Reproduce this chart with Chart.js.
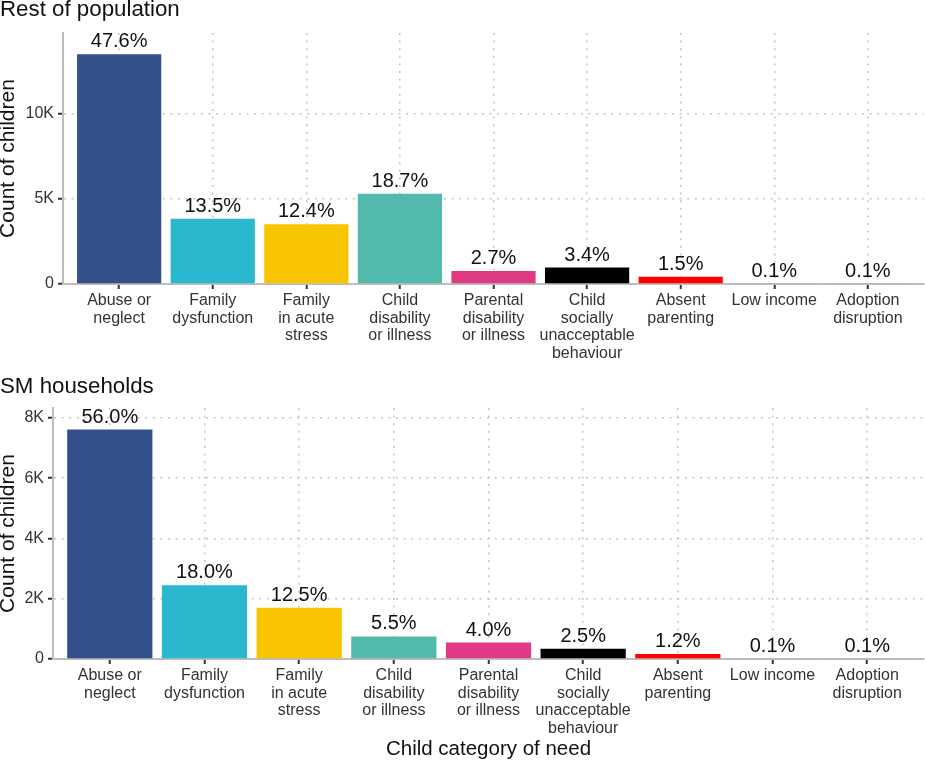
<!DOCTYPE html>
<html><head><meta charset="utf-8">
<script src="https://cdn.jsdelivr.net/npm/chart.js@4.4.1/dist/chart.umd.min.js"></script>
<style>
html,body{margin:0;padding:0;background:#fff;}
#c1{position:absolute;left:0;top:0;}
#c2{position:absolute;left:0;top:375px;}
</style></head><body>
<canvas id="c1" width="925" height="375"></canvas>
<canvas id="c2" width="925" height="386"></canvas>
<script>
const categories = [["Abuse or","neglect"],["Family","dysfunction"],["Family","in acute","stress"],["Child","disability","or illness"],["Parental","disability","or illness"],["Child","socially","unacceptable","behaviour"],["Absent","parenting"],["Low income"],["Adoption","disruption"]];
const barColors = ['#33508A','#29B8CE','#F9C400','#52BAAC','#E03A84','#000000','#FF0000','#9E9E9E','#9E9E9E'];
const restCounts = [13450,3815,3504,5284,763,961,424,28,28];
const restPct = ['47.6%','13.5%','12.4%','18.7%','2.7%','3.4%','1.5%','0.1%','0.1%'];
const smCounts = [7616,2448,1700,748,544,340,163,14,14];
const smPct = ['56.0%','18.0%','12.5%','5.5%','4.0%','2.5%','1.2%','0.1%','0.1%'];
const restTicks = [0,5000,10000];
const smTicks = [0,2000,4000,6000,8000];

const FONT = "'Liberation Sans', Arial, sans-serif";

function kFmt(v){ return v === 0 ? '0' : (v/1000) + 'K'; }

const labelPlugin = {
  id: 'barLabels',
  afterDatasetsDraw(chart, args, opts) {
    const ctx = chart.ctx;
    const meta = chart.getDatasetMeta(0);
    ctx.save();
    ctx.font = '20px ' + FONT;
    ctx.fillStyle = '#111';
    ctx.textAlign = 'center';
    ctx.textBaseline = 'alphabetic';
    meta.data.forEach((bar, i) => {
      ctx.fillText(opts.labels[i], bar.x, bar.y - 7);
    });
    ctx.restore();
  }
};
const panelTitle = {
  id: 'panelTitle',
  afterDraw(chart, args, opts) {
    const ctx = chart.ctx;
    ctx.save();
    ctx.font = '22.3px ' + FONT;
    ctx.fillStyle = '#111';
    ctx.textAlign = 'left';
    ctx.textBaseline = 'alphabetic';
    ctx.fillText(opts.text, 0, opts.y);
    ctx.restore();
  }
};

function makeChart(id, counts, pct, yTicks, yMax, yWidth, xHeight, title, titleY, showXTitle) {
  const gridStyle = {
    color: '#c4c4c4', lineWidth: 1.5,
    tickColor: '#333', tickWidth: 2, tickLength: 5, tickBorderDash: []
  };
  const borderStyle = {display: true, color: '#bdbdbd', width: 2, dash: [2, 5.6]};
  new Chart(document.getElementById(id), {
    type: 'bar',
    data: {
      datasets: [{
        data: counts.map((v, i) => ({x: i, y: v})),
        backgroundColor: barColors,
        borderWidth: 0,
        barPercentage: 0.9,
        categoryPercentage: 1.0
      }]
    },
    plugins: [labelPlugin, panelTitle],
    options: {
      responsive: false,
      animation: false,
      layout: {padding: {left: 0, right: 1, top: 33, bottom: 0}},
      plugins: {
        legend: {display: false},
        tooltip: {enabled: false},
        title: {display: false},
        barLabels: {labels: pct},
        panelTitle: {text: title, y: titleY}
      },
      scales: {
        x: {
          type: 'linear',
          min: -0.6, max: categories.length - 0.4,
          bounds: 'data',
          offset: false,
          afterBuildTicks: (s) => { s.ticks = categories.map((c, i) => ({value: i})); },
          afterFit: (s) => { s.height = xHeight; },
          ticks: {
            autoSkip: false, maxRotation: 0, minRotation: 0,
            padding: 3,
            color: '#333',
            font: {family: FONT, size: 16, lineHeight: 1.1},
            callback: (v) => categories[v]
          },
          grid: Object.assign({offset: false}, gridStyle),
          border: borderStyle,
          title: {
            display: showXTitle, text: 'Child category of need',
            color: '#111', font: {family: FONT, size: 20.5, lineHeight: 1},
            padding: {top: 0, bottom: 1}
          }
        },
        y: {
          min: 0, max: yMax,
          bounds: 'data',
          afterBuildTicks: (s) => { s.ticks = yTicks.map(v => ({value: v})); },
          afterFit: (s) => { s.width = yWidth; },
          ticks: {
            padding: 4, color: '#333',
            font: {family: FONT, size: 16},
            callback: (v) => kFmt(v)
          },
          grid: gridStyle,
          border: borderStyle,
          title: {
            display: true, text: 'Count of children',
            color: '#111', font: {family: FONT, size: 21, lineHeight: 1},
            padding: {top: -2, bottom: 0}
          }
        }
      }
    }
  });
}

makeChart('c1', restCounts, restPct, restTicks, 14700, 63, 91, 'Rest of population', 16, false);
makeChart('c2', smCounts, smPct, smTicks, 8330, 53, 102, 'SM households', 17.5, true);
</script>
</body></html>
